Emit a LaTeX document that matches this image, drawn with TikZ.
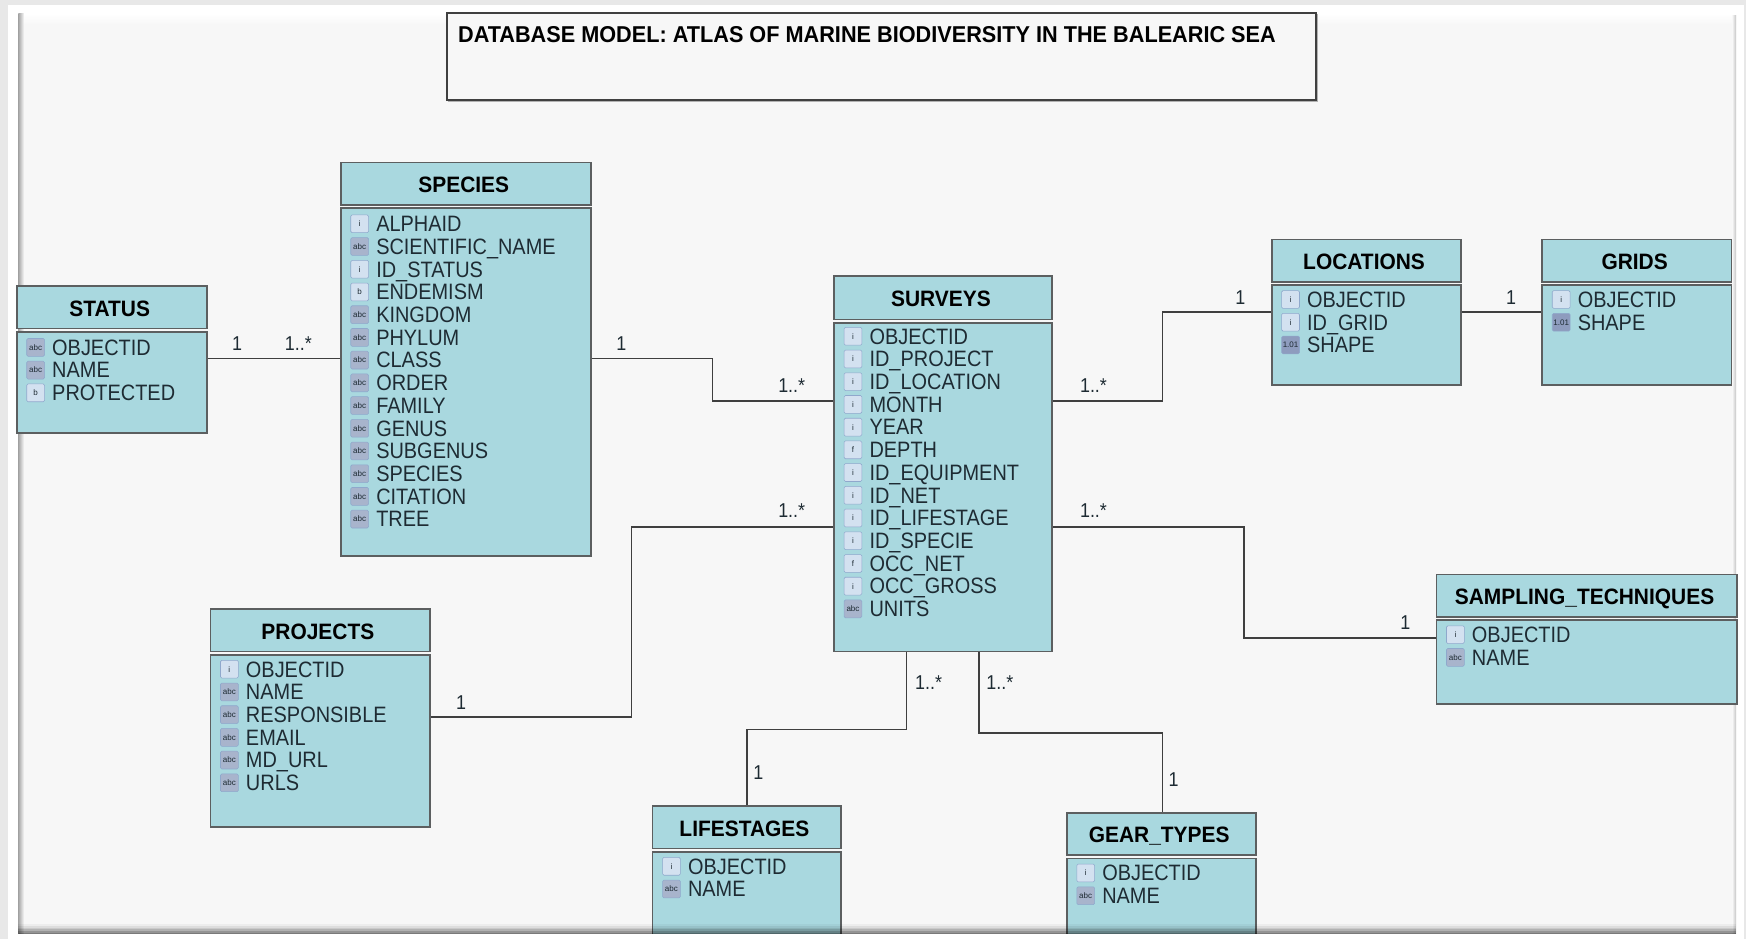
\documentclass[tikz,border=0pt]{standalone}
\usepackage{fontspec}
\usetikzlibrary{fit}
\setmainfont{Liberation Sans}
\newfontfamily\rowfont[FakeStretch=0.895]{Liberation Sans}
\newfontfamily\headfont[FakeStretch=0.94]{Liberation Sans Bold}
\newfontfamily\bigfont[FakeStretch=0.945]{Liberation Sans Bold}
\definecolor{panelbg}{HTML}{F7F7F7}
\definecolor{tblfill}{HTML}{A9D8DF}
\definecolor{tblline}{HTML}{5C5F60}
\definecolor{inkdark}{HTML}{1E2B33}
\definecolor{wireclr}{HTML}{3F3F3F}
\definecolor{iconlight}{HTML}{D3E1F0}
\definecolor{iconabc}{HTML}{A8B4CC}
\definecolor{iconshape}{HTML}{8E9CBE}
\definecolor{iconrim}{HTML}{8FA8CC}
\tikzset{
  headbox/.style={draw=tblline,fill=tblfill,line width=0.8pt,inner sep=0pt},
  headlabel/.style={inner sep=0pt,text=black,text height=7pt,text depth=1pt,xshift=-1pt,yshift=-1pt,font=\headfont\fontsize{10}{12}\selectfont},
  bodybox/.style={draw=tblline,fill=tblfill,line width=0.8pt,inner sep=0pt},
  wire/.style={draw=wireclr,line width=0.75pt},
  card/.style={text=inkdark,inner sep=0pt,font=\rowfont\fontsize{9}{10}\selectfont},
  fieldtext/.style={text=inkdark,inner sep=0pt,anchor=base west,font=\rowfont\fontsize{10}{12}\selectfont},
  iconbox/.style={inner sep=0pt,minimum size=8pt,rounded corners=0.6pt,text=inkdark,line width=0.25pt,draw=iconrim,font=\fontsize{3.6}{4}\selectfont},
  icon-i/.style={iconbox,fill=iconlight},
  icon-a/.style={iconbox,fill=iconabc},
  icon-b/.style={iconbox,fill=iconlight},
  icon-f/.style={iconbox,fill=iconlight},
  icon-s/.style={iconbox,fill=iconshape},
}
% prefix, left edge of table, y of first row, list kind/text
\newcommand{\fieldrows}[4]{%
  \foreach[count=\rn] \kind/\itemtext/\glyph in {#4}{%
    \pgfmathsetmacro{\yy}{#3+(\rn-1)*20.4}
    \pgfmathsetmacro{\yb}{\yy+7}
    \node[icon-\kind] (#1-i\rn) at ({#2+17},\yy) {\glyph};
    \node[fieldtext] (#1-t\rn) at ({#2+31.5},\yb) {\itemtext};
  }%
}
\begin{document}
\begin{tikzpicture}[x=0.5pt,y=-0.5pt]
\useasboundingbox (0,0) rectangle (1568,843.3);
% frame
\fill[gray!18] (0,0) rectangle (1568,843.3);
\fill[white] (7.5,4.5) rectangle (1566.5,843.3);
\fill[panelbg] (16.5,20) rectangle (1559,838);
\shade[left color=gray!70,right color=panelbg] (16.5,12) rectangle (21.5,838);
\shade[top color=white,bottom color=panelbg] (21.5,12) rectangle (1559,22);
\shade[left color=panelbg,right color=gray!45] (1555.5,14) rectangle (1559,838);

% title
\draw[gray!60,line width=0.6pt] (402,91.2) -- (1183.2,91.2) -- (1183.2,13);
\node[draw=black!75,line width=0.9pt,fill=panelbg,inner sep=0pt,fit={(401,12)(1182,90)}] (titlebox) {};
\node[anchor=base west,inner sep=0pt,text=black,font=\bigfont\fontsize{10.3}{12}\selectfont] (titletext) at (411,38) {DATABASE MODEL: ATLAS OF MARINE BIODIVERSITY IN THE BALEARIC SEA};

% tables
\node[bodybox,fit={(306,187)(531,499)}] (speciesB) {};
\node[headbox,fit={(306,146)(531,184)},label={[headlabel]center:SPECIES}] (speciesH) {};
\fieldrows{sp}{306}{201}{i/ALPHAID/i,a/SCIENTIFIC\_NAME/abc,i/ID\_STATUS/i,b/ENDEMISM/b,a/KINGDOM/abc,a/PHYLUM/abc,a/CLASS/abc,a/ORDER/abc,a/FAMILY/abc,a/GENUS/abc,a/SUBGENUS/abc,a/SPECIES/abc,a/CITATION/abc,a/TREE/abc}

\node[bodybox,fit={(15,298)(186,389)}] (statusB) {};
\node[headbox,fit={(15,257)(186,295)},label={[headlabel]center:STATUS}] (statusH) {};
\fieldrows{st}{15}{312}{a/OBJECTID/abc,a/NAME/abc,b/PROTECTED/b}

\node[bodybox,fit={(749,290)(945,585)}] (surveysB) {};
\node[headbox,fit={(749,248)(945,287)},label={[headlabel]center:SURVEYS}] (surveysH) {};
\fieldrows{su}{749}{302}{i/OBJECTID/i,i/ID\_PROJECT/i,i/ID\_LOCATION/i,i/MONTH/i,i/YEAR/i,f/DEPTH/f,i/ID\_EQUIPMENT/i,i/ID\_NET/i,i/ID\_LIFESTAGE/i,i/ID\_SPECIE/i,f/OCC\_NET/f,i/OCC\_GROSS/i,a/UNITS/abc}

\node[bodybox,fit={(1142,256)(1312,346)}] (locB) {};
\node[headbox,fit={(1142,215)(1312,253)},label={[headlabel]center:LOCATIONS}] (locH) {};
\fieldrows{lo}{1142}{269}{i/OBJECTID/i,i/ID\_GRID/i,s/SHAPE/1.01}

\node[bodybox,fit={(1385,256)(1555,346)}] (gridB) {};
\node[headbox,fit={(1385,215)(1555,253)},label={[headlabel]center:GRIDS}] (gridH) {};
\fieldrows{gr}{1385}{269}{i/OBJECTID/i,s/SHAPE/1.01}

\node[bodybox,fit={(189,588)(386,743)}] (projB) {};
\node[headbox,fit={(189,547)(386,585)},label={[headlabel]center:PROJECTS}] (projH) {};
\fieldrows{pr}{189}{601}{i/OBJECTID/i,a/NAME/abc,a/RESPONSIBLE/abc,a/EMAIL/abc,a/MD\_URL/abc,a/URLS/abc}

\node[bodybox,fit={(1290,557)(1560,632)}] (sampB) {};
\node[headbox,fit={(1290,516)(1560,554)},label={[headlabel]center:SAMPLING\_TECHNIQUES}] (sampH) {};
\fieldrows{sa}{1290}{570}{i/OBJECTID/i,a/NAME/abc}

\node[bodybox,fit={(586,765)(755,842)}] (lifeB) {};
\node[headbox,fit={(586,724)(755,762)},label={[headlabel]center:LIFESTAGES}] (lifeH) {};
\fieldrows{li}{586}{778}{i/OBJECTID/i,a/NAME/abc}

\node[bodybox,fit={(958,771)(1128,842)}] (gearB) {};
\node[headbox,fit={(958,730)(1128,768)},label={[headlabel]center:GEAR\_TYPES}] (gearH) {};
\fieldrows{ge}{958}{784}{i/OBJECTID/i,a/NAME/abc}

% connectors
\draw[wire] (statusB.east |- 0,322) -- (speciesB.west |- 0,322);
\draw[wire] (speciesB.east |- 0,322) -- (640,322) -- (640,360) -- (surveysB.west |- 0,360);
\draw[wire] (projB.east |- 0,644) -- (567,644) -- (567,473) -- (surveysB.west |- 0,473);
\draw[wire] (surveysB.east |- 0,360) -- (1044,360) -- (1044,280) -- (locB.west |- 0,280);
\draw[wire] (locB.east |- 0,280) -- (gridB.west |- 0,280);
\draw[wire] (surveysB.east |- 0,473) -- (1117,473) -- (1117,573) -- (sampB.west |- 0,573);
\draw[wire] (surveysB.south -| 814,0) -- (814,655) -- (671,655) -- (lifeH.north -| 671,0);
\draw[wire] (surveysB.south -| 879,0) -- (879,658) -- (1044,658) -- (gearH.north -| 1044,0);

% multiplicities
\node[card] (m1) at (213,309) {1};
\node[card] (m2) at (268,309) {1..*};
\node[card] (m3) at (558,309) {1};
\node[card] (m4) at (711,346) {1..*};
\node[card] (m5) at (414,631) {1};
\node[card] (m6) at (711,459) {1..*};
\node[card] (m7) at (982,346) {1..*};
\node[card] (m8) at (1114,267) {1};
\node[card] (m9) at (1357,267) {1};
\node[card] (m10) at (982,459) {1..*};
\node[card] (m11) at (1262,559) {1};
\node[card] (m12) at (834,613) {1..*};
\node[card] (m13) at (681,694) {1};
\node[card] (m14) at (898,613) {1..*};
\node[card] (m15) at (1054,700) {1};

% bottom edge of the panel, over the clipped tables
\fill[white] (7.5,838.5) rectangle (1566.5,843.3);
\foreach \ya/\op in {830/0.04,831.5/0.1,833/0.18,834.5/0.28,836/0.4,837.5/0.52}
  \fill[black,opacity=\op] (16.5,\ya) rectangle (1559,\ya+1.5);
\end{tikzpicture}
\end{document}
